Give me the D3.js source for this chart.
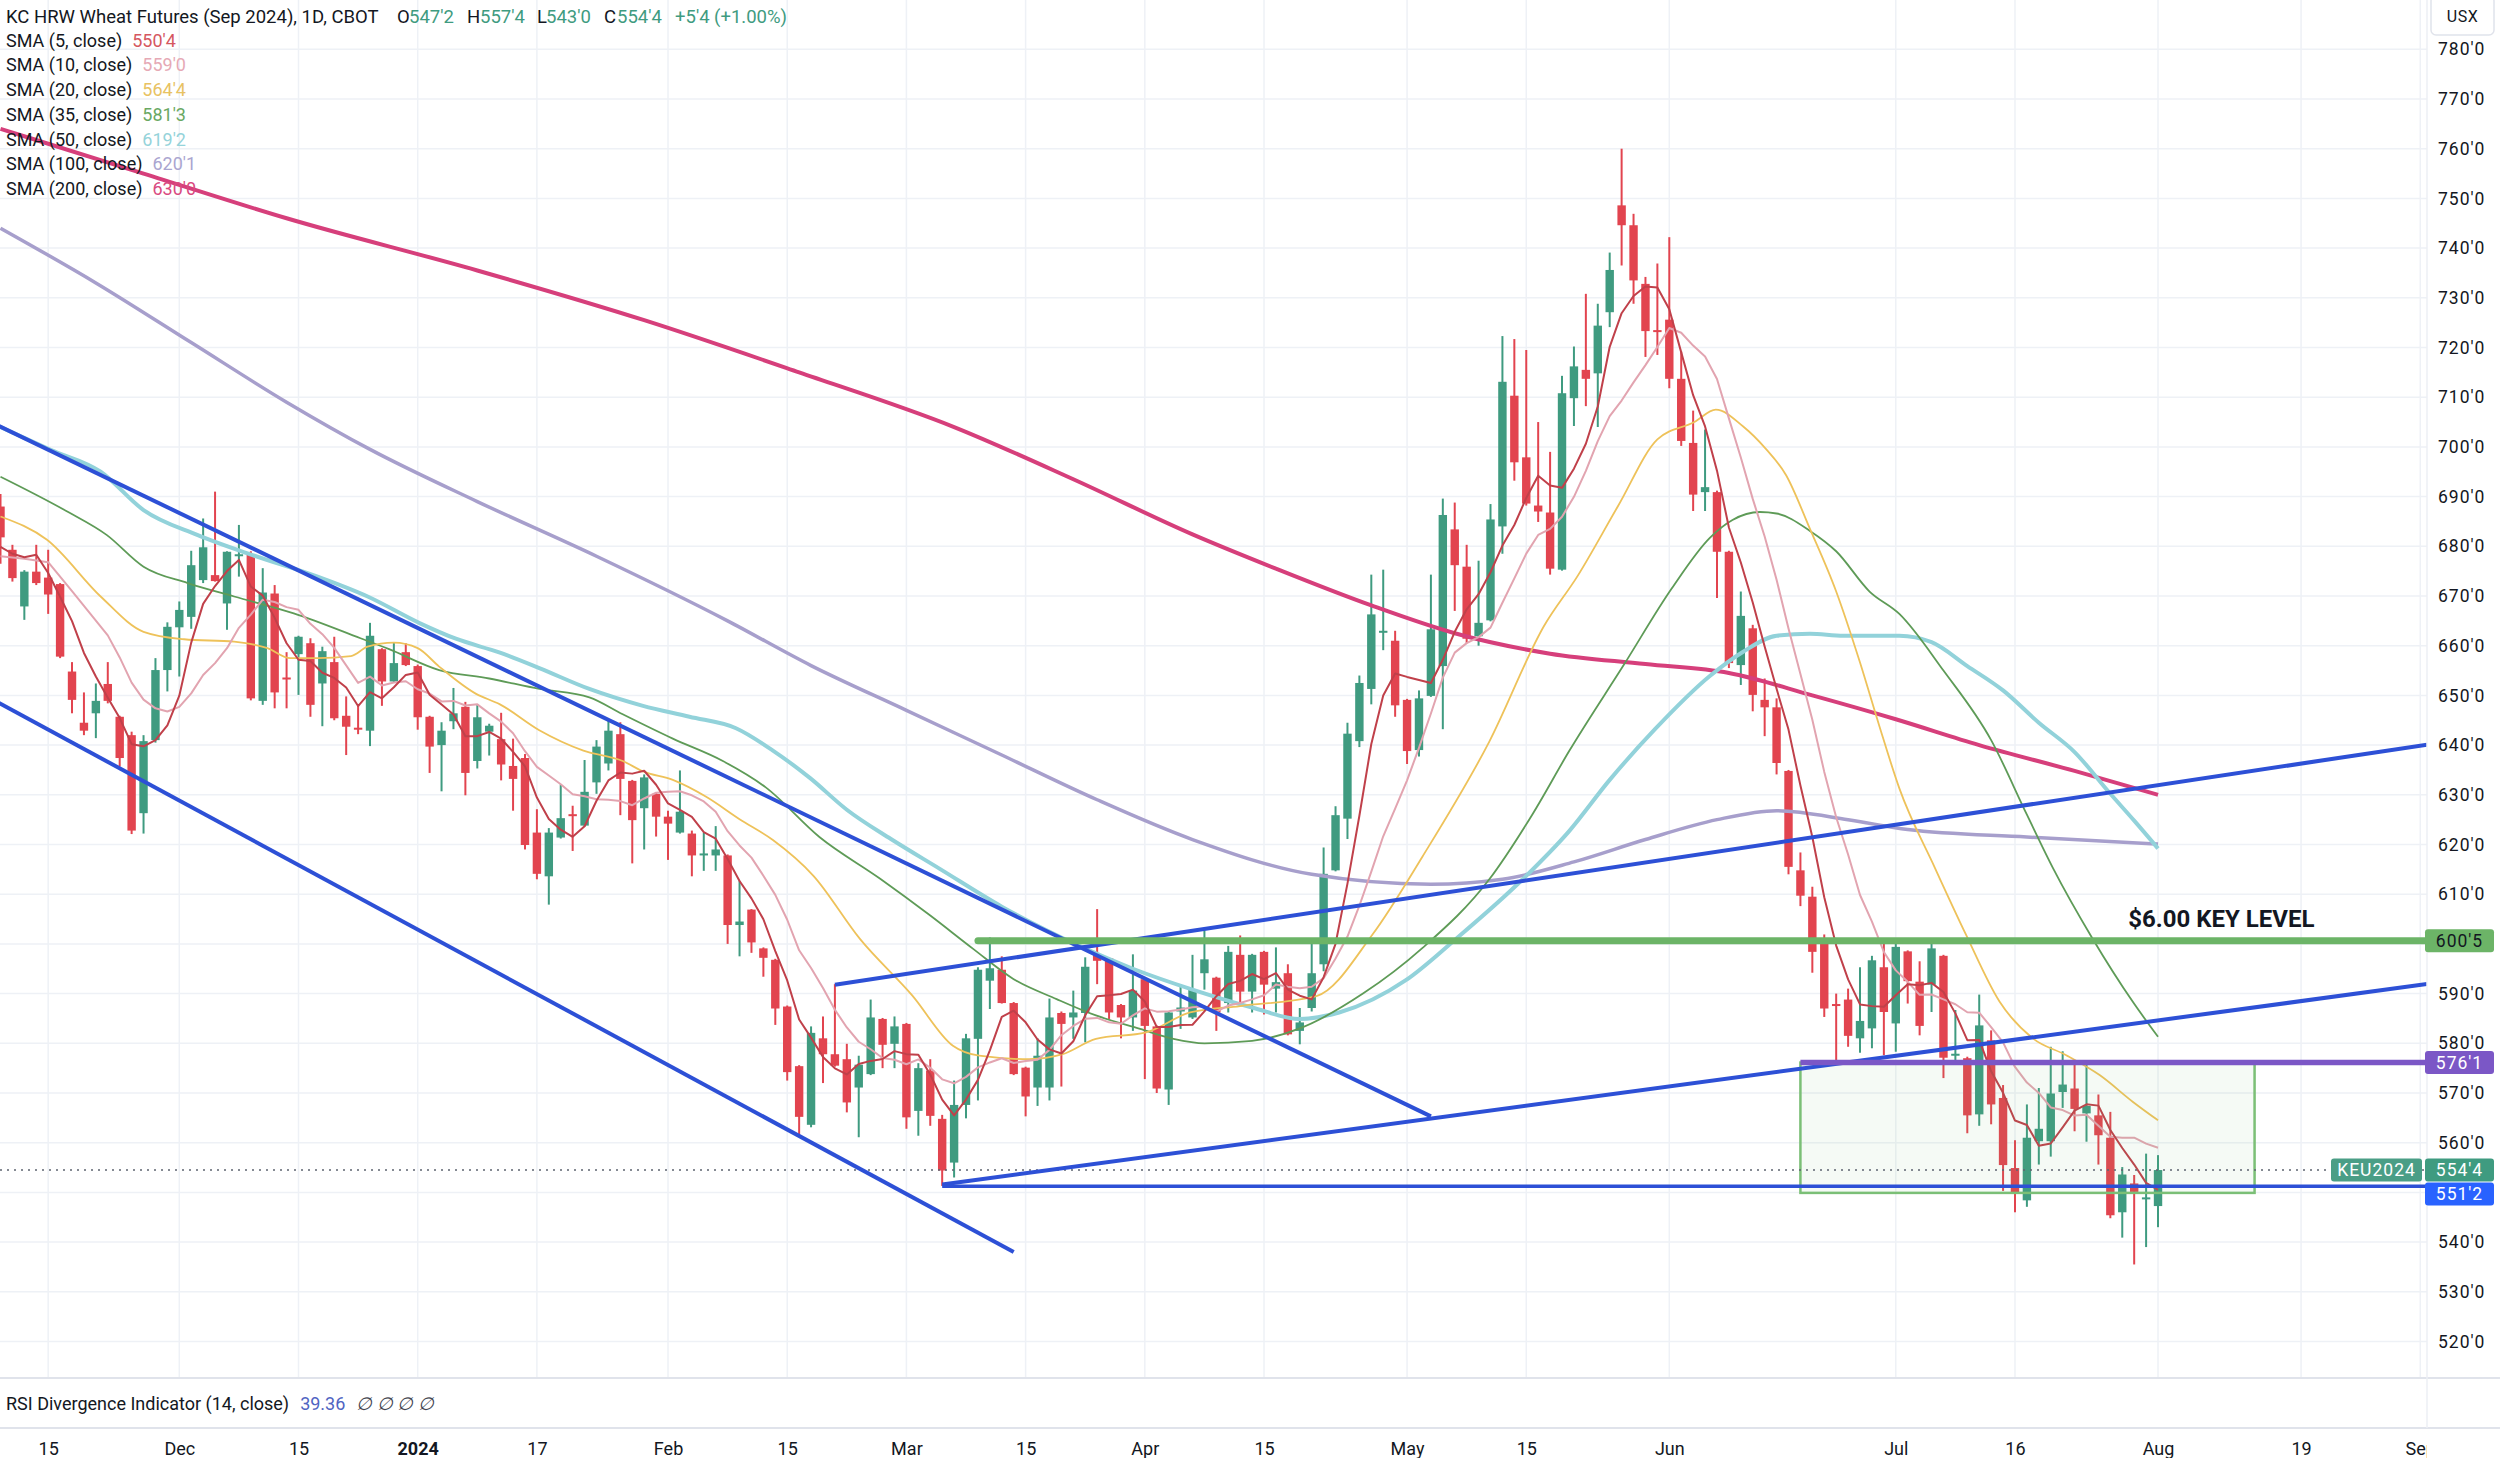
<!DOCTYPE html>
<html>
<head>
<meta charset="utf-8">
<script src="https://cdn.jsdelivr.net/npm/d3@7"></script>
<style>
body { margin: 0; background: #fff; }
svg { display: block; }
text { font-family: Roboto, "Liberation Sans", sans-serif; fill: #131722; }
</style>
</head>
<body>
<svg id="chart" width="2500" height="1458"></svg>
<script>
// ---- data ----
const firstDay = "2023-11-09";
const holidays = ["2023-11-23","2023-12-25","2024-01-01","2024-01-15","2024-02-19",
  "2024-03-29","2024-05-27","2024-06-19","2024-07-04","2024-09-02"];

// daily bars [open, high, low, close], one per trading day from firstDay
const candles = [
  [688.0,690.5,676.5,681.8],[679.3,680.3,672.9,673.6],[667.9,675.2,665.2,674.9],[674.9,680.3,672.2,672.6],
  [673.7,679.3,666.4,670.3],[672.4,672.6,657.5,657.8],[654.8,656.7,646.4,649.1],[644.5,650.6,642.0,642.9],
  [646.4,652.4,641.4,648.9],[652.3,656.7,648.4,648.9],[645.7,645.9,635.7,637.4],[642.0,642.7,622.1,622.8],
  [626.3,642.0,622.2,640.8],[641.0,657.5,640.5,655.1],[655.1,664.7,650.8,663.8],[663.7,668.9,653.8,667.2],
  [665.8,679.1,663.4,676.2],[673.2,685.6,672.6,679.8],[674.2,691.0,672.9,673.0],[668.5,679.0,663.2,678.9],
  [678.2,684.3,673.9,678.4],[678.3,679.0,649.0,649.4],[648.9,675.6,648.1,670.7],[670.5,672.2,647.4,650.6],
  [653.6,658.7,647.4,653.4],[658.3,662.0,650.1,661.8],[660.5,661.5,645.7,648.1],[652.4,659.8,643.8,658.9],
  [656.7,661.8,645.0,645.4],[645.9,649.8,638.0,643.7],[643.5,648.1,642.2,643.2],[642.9,664.6,639.8,662.0],
  [659.3,659.5,647.9,652.8],[652.8,660.7,652.6,656.5],[658.7,660.5,655.9,656.1],[655.9,656.2,643.1,645.6],
  [645.7,645.9,634.4,639.7],[640.0,644.6,630.7,642.9],[644.8,651.5,643.2,646.4],[647.7,648.7,629.9,634.4],
  [636.8,648.2,635.3,645.6],[642.7,644.3,637.9,643.9],[641.2,646.5,632.9,636.1],[635.8,641.3,626.8,633.2],
  [637.4,638.2,619.0,619.9],[622.4,627.1,613.0,614.1],[613.6,623.3,607.9,622.4],[621.4,632.1,621.2,625.3],
  [626.1,627.8,618.7,626.0],[623.8,637.0,623.6,630.6],[632.5,641.0,630.2,639.7],[636.3,645.1,634.9,642.9],
  [642.2,644.6,625.9,633.2],[632.8,633.0,616.2,624.9],[627.3,634.1,619.0,633.5],[630.2,630.4,621.6,625.6],
  [625.6,626.8,616.9,624.2],[622.4,634.9,622.2,626.6],[622.2,622.8,613.6,617.8],[618.1,622.4,614.7,618.2],
  [617.8,623.7,614.7,619.0],[617.8,618.0,600.0,603.8],[603.8,612.7,597.5,604.5],[606.9,607.0,598.2,600.3],
  [599.1,599.3,593.4,597.2],[596.8,597.0,583.7,587.0],[587.4,587.6,572.5,574.2],[575.4,575.6,561.6,565.2],
  [563.6,583.4,563.1,582.1],[581.0,585.4,572.0,577.8],[577.8,591.9,575.3,575.5],[576.8,579.9,566.1,568.1],
  [571.1,577.5,561.1,575.7],[573.8,588.8,573.6,585.2],[584.9,585.1,575.0,579.7],[579.9,585.4,575.0,583.4],
  [583.9,584.1,562.8,565.1],[566.4,576.0,561.4,575.0],[574.5,576.8,563.4,565.4],[564.8,565.6,551.3,554.4],
  [556.0,572.5,553.0,567.6],[567.6,581.9,564.9,581.0],[580.9,595.3,568.5,594.8],[592.6,601.3,586.9,595.1],
  [594.8,597.5,588.0,588.1],[588.1,588.3,573.6,573.8],[575.1,575.3,565.3,569.3],[571.1,581.0,567.4,577.5],
  [571.1,589.0,568.5,585.2],[586.1,586.4,571.3,583.9],[585.2,590.6,580.9,586.2],[586.1,597.3,580.2,595.4],
  [597.9,607.0,591.9,596.6],[597.1,597.3,584.9,586.2],[587.7,587.9,581.0,585.2],[585.2,597.9,582.5,590.6],
  [592.9,593.1,572.8,583.5],[583.4,583.6,570.0,570.9],[570.7,586.4,567.6,586.2],[586.4,591.9,582.9,587.2],
  [585.2,597.8,584.9,590.9],[594.1,602.7,590.8,596.9],[593.2,593.4,582.5,586.2],[588.1,599.6,586.2,598.4],
  [597.8,601.7,587.6,590.4],[590.4,598.0,586.2,597.8],[598.4,598.6,585.8,591.8],[591.0,599.3,586.2,592.3],
  [594.1,595.9,581.6,581.8],[582.5,587.1,579.8,584.2],[587.1,600.1,586.4,594.1],[595.9,619.4,594.5,614.1],
  [614.8,627.7,614.6,625.9],[625.2,644.5,621.1,642.3],[640.8,654.0,639.6,652.5],[651.3,674.3,648.2,666.3],
  [662.8,675.3,659.1,663.0],[661.0,663.0,645.7,648.0],[649.1,649.3,636.2,638.8],[639.0,651.0,637.7,649.4],
  [649.9,674.3,649.7,663.3],[655.9,689.6,643.2,686.3],[683.4,688.8,667.0,676.2],[675.9,680.3,660.5,661.4],
  [661.9,677.1,660.0,664.6],[665.1,688.5,664.9,685.4],[684.0,722.3,678.5,713.1],[710.3,721.7,693.2,696.9],
  [697.9,719.5,688.2,688.6],[688.2,705.0,684.9,687.0],[686.8,699.0,674.3,675.5],[675.3,714.3,675.1,710.8],
  [709.8,720.2,704.2,716.2],[715.5,730.8,708.2,713.7],[714.8,728.8,704.0,724.4],[727.1,739.1,724.1,735.6],
  [748.6,760.0,736.5,744.6],[744.6,746.9,728.8,733.5],[732.8,734.2,718.1,723.3],[723.5,736.9,718.5,723.4],
  [725.6,742.2,711.8,713.7],[713.7,719.2,700.2,701.2],[700.8,707.3,687.1,690.4],[690.9,703.5,687.1,691.9],
  [690.9,691.2,669.6,678.9],[678.9,679.1,655.5,656.5],[656.1,670.9,652.1,666.0],[663.5,664.2,646.8,650.1],
  [649.1,653.4,641.8,647.6],[647.6,649.4,634.1,636.4],[634.8,635.0,614.0,615.5],[614.8,618.4,607.6,609.7],
  [609.5,611.5,594.2,598.4],[600.3,601.9,585.3,587.0],[587.9,590.0,576.4,587.7],[588.8,591.0,579.3,581.5],
  [581.0,595.3,578.1,584.5],[583.0,597.6,579.0,596.7],[595.3,600.8,577.6,586.3],[584.0,600.3,578.3,599.4],
  [598.5,598.7,588.0,592.5],[592.4,596.5,581.6,583.5],[591.8,600.4,586.3,599.1],[597.6,597.8,573.0,577.1],
  [577.8,586.7,576.6,577.9],[577.0,577.3,561.9,565.5],[565.7,589.8,563.4,583.6],[580.6,582.6,563.7,567.7],
  [569.0,571.6,550.3,555.5],[554.9,560.5,546.0,550.0],[548.4,567.7,547.1,561.0],[560.3,571.0,555.6,562.8],
  [560.3,579.3,557.2,569.9],[570.2,578.4,567.0,571.7],[570.9,575.9,562.3,566.8],[565.9,575.9,560.2,567.4],
  [565.5,569.7,555.6,561.5],[561.0,566.2,544.8,545.4],[546.0,555.1,540.9,553.6],[551.8,553.5,535.5,550.1],
  [548.9,557.8,539.0,549.0],[547.25,557.5,543.0,554.5]
];

// slower averages as [bar, price]
const sma20Pts = [[0,686],[3.9,681.3],[8.4,669.9],[12,662.8],[15.4,661.3],[19.6,660.8],[22.4,659.5],[24.3,657.5],
  [26.6,657.5],[29.4,657.9],[30.8,659.8],[33,660.6],[35,659.5],[36.8,655.8],[39.9,650.3],[41.9,648.2],[45.2,643],
  [48.9,638.9],[52.2,636.8],[53.9,634.7],[56.4,633],[59.2,629.6],[62,625.1],[64.8,620.9],[68.2,613.7],[72.1,601],
  [76.5,589.6],[79.9,579.5],[82.1,577.5],[86.3,576.8],[89.1,577.8],[91.9,580.9],[96.1,582.2],[99.8,586.2],
  [104,587.5],[110.4,589.5],[115.1,601.9],[119.3,617.6],[124.9,640.7],[129.5,664],[132.3,674],[135.7,688.1],
  [139,701.5],[142.1,705],[143.9,707.5],[146.2,704.1],[148.1,699.6],[149.8,694.3],[151.8,683.5],[154,670.9],
  [156,656.6],[157.6,644],[159.3,631.3],[162.3,615.2],[164.9,601.8],[167.7,588.4],[170.5,581],[173.3,577.6],
  [176.1,573.6],[178.9,568.2],[181,564.5]];
const sma35Pts = [[0,694],[5.6,687],[8.9,682.3],[12,675.9],[15.7,672.6],[19.6,669.9],[24.6,666.5],[30.2,661.5],
  [32.6,659.3],[36.8,655.1],[41,653.4],[45.2,651.3],[49.4,649.6],[52.2,646.2],[56.4,641.3],[60.6,636.8],
  [64.2,631.5],[68.7,621.5],[73.8,613.1],[78,605.7],[81.6,599],[85,592.9],[88.6,588.9],[91.9,585.6],[95.6,582.9],
  [98.4,580.9],[101,580],[105,580.5],[109,583],[114.3,590],[119.3,599.2],[124.9,613],[128.5,626],[131.6,638.8],
  [136.2,656.2],[140.2,671.5],[143.4,681.7],[145.3,685.3],[147.6,686.9],[149,686.6],[151.8,683.1],[154,679],
  [156.8,670.9],[159.3,666.4],[163,655],[167,641],[170,626],[172.2,615.2],[175.5,601.1],[178.9,588.3],[181,581.3]];
const sma50Pts = [[0,704],[4.2,699.4],[8.4,695],[12,687.3],[16.5,682.3],[21.3,678.1],[26.6,673.9],[30.8,669.9],
  [35.2,664.5],[38.2,661.4],[41.9,658.6],[45.2,655.5],[49.4,651.3],[53.9,647.9],[57.8,645.7],[61.7,643.4],
  [64.8,638.9],[67.9,633.4],[71,627],[74.7,621.1],[78.8,615.1],[84,607.5],[90.5,599.6],[95,595],[100,590.8],
  [105,587.2],[109,584.9],[112.3,586.2],[117.9,592.7],[122.1,601],[127.7,613],[131.6,622.7],[135,633],
  [138.8,643.2],[143.4,653.9],[146.2,658.8],[149,662],[151.8,662.4],[154.6,662],[159.3,662],[162,660.7],
  [165,655.9],[168,651],[171,644.5],[174,638.6],[177,630.2],[179,624.8],[181,619.2]];
const sma100Pts = [[0,744],[8,733],[16,721],[24,709],[31,699.5],[40,689],[50,678],[61,665],[68,656],[76,647],
  [84,638],[92,629],[100,621],[110,614],[120,612],[126,613],[132,616.5],[138,621],[144,625],[149,626.8],
  [155,625],[160,623],[170,621.5],[181,620.1]];
const sma200Pts = [[0,764],[12,755],[24,746],[40,735.5],[54,725.5],[67,715],[80,704],[90,693.5],[100,682.4],
  [107,675.5],[115,668.1],[122,662.5],[130,658.4],[138,656.3],[145,654.5],[152,650],[159,645.2],[166,640],
  [174,634.8],[181,630]];
// the first bars of the fast averages, before their window is full
const sma5Lead = [[0,679.9],[1,678.5],[2,677.8],[3,678.3]];
const sma10Lead = [[0,678],[2,677.5],[4,676.8],[6,671]];

const smaNames = ["SMA (5, close)","SMA (10, close)","SMA (20, close)","SMA (35, close)",
  "SMA (50, close)","SMA (100, close)","SMA (200, close)"];
const smaValues = ["550'4","559'0","564'4","581'3","619'2","620'1","630'0"];

const timeTicks = [["2023-11-15","15"],["2023-12-01","Dec"],["2023-12-15","15"],["2024-01-02","2024"],
  ["2024-01-17","17"],["2024-02-01","Feb"],["2024-02-15","15"],["2024-03-01","Mar"],["2024-03-15","15"],
  ["2024-04-01","Apr"],["2024-04-15","15"],["2024-05-01","May"],["2024-05-15","15"],["2024-06-03","Jun"],
  ["2024-07-01","Jul"],["2024-07-16","16"],["2024-08-01","Aug"],["2024-08-19","19"],["2024-09-03","Sep"]];
const priceTicks = d3.range(520, 781, 10);

// drawings, in [bar, price]
const channelLines = [[[-1,705.2],[120,565.3]], [[-1,649.6],[85,538.0]]];
const wedgeRays = [[[79,551.6],[151,574.9]], [[70,591.8],[100.7,602.9]]];
const keyLevel = 600.625, keyLevelFrom = 82;
const boxTop = 576.125, boxBottom = 549.9, boxFrom = 151, boxTo = 189.1;
const supportLevel = 551.25, supportFrom = 79;
const keyText = "$6.00 KEY LEVEL", keyTextAt = [178.5, 603.4];

// ---- layout ----
const W = 2500, H = 1458, plotRight = 2427, paneBottom = 1378, rsiBottom = 1428;
const upColor = "#3f9b80", downColor = "#e2444f";
const smaColors = ["#c0404a","#e2a4b0","#eec25a","#5e9b57","#92d2da","#a79fcc","#d63f7b"];
const smaLegendColors = ["#d5575f","#e6a9b5","#e8c262","#69a862","#95d3da","#aaa5d0","#d94a80"];

const tradingDays = [];
for (let d = new Date(firstDay + "T00:00:00Z"); tradingDays.length < 210; d.setUTCDate(d.getUTCDate() + 1)) {
  const s = d.toISOString().slice(0, 10), dow = d.getUTCDay();
  if (dow !== 0 && dow !== 6 && !holidays.includes(s)) tradingDays.push(s);
}
const dayIndex = new Map(tradingDays.map((s, i) => [s, i]));

function fmt(p) {
  const whole = Math.floor(p + 1e-9);
  return whole + "'" + Math.round((p - whole) * 8);
}

const x = d3.scaleLinear().domain([0, 203]).range([0.5, 0.5 + 203 * 11.92]);
const y = d3.scaleLinear().domain([520, 780]).range([1341.5, 49.3]);
const lastBar = x.invert(plotRight);

const svg = d3.select("#chart");
svg.append("defs").append("clipPath").attr("id", "pane")
  .append("rect").attr("x", 0).attr("y", 0).attr("width", plotRight).attr("height", paneBottom);

// grid
const grid = svg.append("g");
grid.selectAll(".hg").data(priceTicks).enter().append("line")
  .attr("x1", 0).attr("x2", plotRight).attr("y1", d => y(d)).attr("y2", d => y(d))
  .attr("stroke", "#eef1f6").attr("stroke-width", 1.5);
grid.selectAll(".vg").data(timeTicks).enter().append("line")
  .attr("x1", d => x(dayIndex.get(d[0]))).attr("x2", d => x(dayIndex.get(d[0])))
  .attr("y1", 0).attr("y2", paneBottom)
  .attr("stroke", "#eef1f6").attr("stroke-width", 1.5);

const pane = svg.append("g").attr("clip-path", "url(#pane)");

// candles
const bars = pane.append("g").selectAll("g").data(candles).enter().append("g")
  .attr("fill", d => d[3] >= d[0] ? upColor : downColor)
  .attr("stroke", d => d[3] >= d[0] ? upColor : downColor);
bars.append("line")
  .attr("x1", (d, i) => x(i)).attr("x2", (d, i) => x(i))
  .attr("y1", d => y(d[1])).attr("y2", d => y(d[2]))
  .attr("stroke-width", 2);
bars.append("rect")
  .attr("x", (d, i) => x(i) - 4.2).attr("width", 8.4)
  .attr("y", d => y(Math.max(d[0], d[3])))
  .attr("height", d => Math.max(2, y(Math.min(d[0], d[3])) - y(Math.max(d[0], d[3]))))
  .attr("stroke", "none");

// moving averages
function rolling(n, lead) {
  const pts = lead.slice();
  for (let i = n - 1; i < candles.length; i++) {
    pts.push([i, d3.mean(candles.slice(i - n + 1, i + 1), c => c[3])]);
  }
  return pts;
}
const smooth = d3.line().x(d => x(d[0])).y(d => y(d[1])).curve(d3.curveMonotoneX);
const straight = d3.line().x(d => x(d[0])).y(d => y(d[1]));
const smaSeries = [
  [straight(rolling(5, sma5Lead)), 2],
  [straight(rolling(10, sma10Lead)), 2],
  [smooth(sma20Pts), 1.8],
  [smooth(sma35Pts), 1.8],
  [smooth(sma50Pts), 4],
  [smooth(sma100Pts), 3.5],
  [smooth(sma200Pts), 4]
];
const maG = pane.append("g").attr("fill", "none");
[6, 5, 4, 3, 2, 1, 0].forEach(k => {
  maG.append("path").attr("d", smaSeries[k][0])
    .attr("stroke", smaColors[k]).attr("stroke-width", smaSeries[k][1])
    .attr("stroke-linejoin", "round");
});

// drawings
const dr = pane.append("g");
dr.append("rect")
  .attr("x", x(boxFrom)).attr("width", x(boxTo) - x(boxFrom))
  .attr("y", y(boxTop)).attr("height", y(boxBottom) - y(boxTop))
  .attr("fill", "rgba(110,185,110,0.07)").attr("stroke", "#7bbf76").attr("stroke-width", 2.5);
dr.append("line")
  .attr("x1", 0).attr("x2", plotRight).attr("y1", y(554.5)).attr("y2", y(554.5))
  .attr("stroke", "#5d6470").attr("stroke-width", 1.5).attr("stroke-dasharray", "2,5");
channelLines.forEach(l => {
  dr.append("line")
    .attr("x1", x(l[0][0])).attr("y1", y(l[0][1])).attr("x2", x(l[1][0])).attr("y2", y(l[1][1]))
    .attr("stroke", "#2d50d6").attr("stroke-width", 4);
});
wedgeRays.forEach(l => {
  const slope = (l[1][1] - l[0][1]) / (l[1][0] - l[0][0]);
  dr.append("line")
    .attr("x1", x(l[0][0])).attr("y1", y(l[0][1]))
    .attr("x2", plotRight).attr("y2", y(l[0][1] + slope * (lastBar - l[0][0])))
    .attr("stroke", "#2d50d6").attr("stroke-width", 4);
});
dr.append("line")
  .attr("x1", x(supportFrom)).attr("x2", plotRight).attr("y1", y(supportLevel)).attr("y2", y(supportLevel))
  .attr("stroke", "#2d50d6").attr("stroke-width", 3.5);
dr.append("line")
  .attr("x1", x(keyLevelFrom)).attr("x2", plotRight).attr("y1", y(keyLevel)).attr("y2", y(keyLevel))
  .attr("stroke", "#6cb467").attr("stroke-width", 7).attr("stroke-linecap", "round");
dr.append("line")
  .attr("x1", x(boxFrom)).attr("x2", plotRight).attr("y1", y(boxTop)).attr("y2", y(boxTop))
  .attr("stroke", "#7b57c6").attr("stroke-width", 5.5);
dr.append("text").attr("x", x(keyTextAt[0])).attr("y", y(keyTextAt[1]))
  .style("font-family", "Roboto, sans-serif")
  .attr("font-weight", "bold").attr("font-size", 24).text(keyText);

// panes, separators
svg.append("line").attr("x1", 0).attr("x2", W).attr("y1", paneBottom).attr("y2", paneBottom)
  .attr("stroke", "#e0e3eb").attr("stroke-width", 2);
svg.append("line").attr("x1", 0).attr("x2", W).attr("y1", rsiBottom).attr("y2", rsiBottom)
  .attr("stroke", "#e0e3eb").attr("stroke-width", 2);
svg.append("line").attr("x1", plotRight).attr("x2", plotRight).attr("y1", 0).attr("y2", rsiBottom)
  .attr("stroke", "#eceff4").attr("stroke-width", 1.5);

// price axis
const yAxis = svg.append("g").attr("transform", `translate(${plotRight},0)`)
  .call(d3.axisRight(y).tickValues(priceTicks).tickFormat(fmt).tickSize(0).tickPadding(11));
yAxis.select(".domain").remove();
yAxis.selectAll("text").attr("font-size", 17.5).attr("letter-spacing", 1).attr("fill", "#131722");

// time axis
const tickLabel = new Map(timeTicks.map(t => [dayIndex.get(t[0]), t[1]]));
svg.append("clipPath").attr("id", "timeclip").append("rect")
  .attr("x", 0).attr("y", rsiBottom).attr("width", plotRight).attr("height", H - rsiBottom);
const xAxis = svg.append("g").attr("clip-path", "url(#timeclip)").append("g")
  .attr("transform", `translate(0,${rsiBottom})`)
  .call(d3.axisBottom(x).tickValues(timeTicks.map(t => dayIndex.get(t[0])))
    .tickFormat(i => tickLabel.get(i)).tickSize(0).tickPadding(14.6));
xAxis.select(".domain").remove();
xAxis.selectAll("text").attr("font-size", 18)
  .attr("fill", "#131722").attr("font-weight", i => tickLabel.get(i) === "2024" ? "bold" : null);

// price labels on the scale
function scaleTag(x0, w, cy, fill, color, label) {
  svg.append("rect").attr("x", x0).attr("y", cy - 11.5).attr("width", w).attr("height", 23)
    .attr("rx", 3).attr("fill", fill);
  svg.append("text").attr("x", x0 + w / 2).attr("y", cy + 6.3).attr("text-anchor", "middle")
    .attr("font-size", 17.5).attr("letter-spacing", 1).style("fill", color).text(label);
}
const last = candles[candles.length - 1];
scaleTag(2425, 69, y(keyLevel), "#6cb467", "#131722", fmt(keyLevel));
scaleTag(2425, 69, y(boxTop), "#7b57c6", "#fff", fmt(boxTop));
scaleTag(2331, 91, y(last[3]), "#4a9e86", "#fff", "KEU2024");
scaleTag(2425, 69, y(last[3]), "#3f9b80", "#fff", fmt(last[3]));
scaleTag(2425, 69, y(last[3]) + 24, "#2962ff", "#fff", fmt(supportLevel));

svg.append("rect").attr("x", 2431).attr("y", -4).attr("width", 63).attr("height", 39).attr("rx", 5)
  .attr("fill", "#fff").attr("stroke", "#e0e3eb").attr("stroke-width", 1.5);
svg.append("text").attr("x", 2462.5).attr("y", 22).attr("text-anchor", "middle")
  .attr("font-size", 16).attr("letter-spacing", 0.5).text("USX");

// legend
const prev = candles[candles.length - 2];
const chg = last[3] - prev[3];
svg.append("text").attr("x", 6).attr("y", 22.5).attr("font-size", 18.5)
  .text("KC HRW Wheat Futures (Sep 2024), 1D, CBOT");
const ohlcX = [[397, 409], [467, 480], [537, 546], [604, 617]];
[["O", last[0]], ["H", last[1]], ["L", last[2]], ["C", last[3]]].forEach((p, k) => {
  svg.append("text").attr("x", ohlcX[k][0]).attr("y", 22.5).attr("font-size", 18.5).text(p[0]);
  svg.append("text").attr("x", ohlcX[k][1]).attr("y", 22.5).attr("font-size", 18.5)
    .style("fill", upColor).text(fmt(p[1]));
});
svg.append("text").attr("x", 675).attr("y", 22.5).attr("font-size", 18.5).style("fill", upColor)
  .text(`+${fmt(chg)} (+${(chg / prev[3] * 100).toFixed(2)}%)`);

smaNames.forEach((name, k) => {
  const t = svg.append("text").attr("x", 6).attr("y", 46.5 + k * 24.75).attr("font-size", 18);
  t.append("tspan").text(name);
  t.append("tspan").attr("dx", 10).style("fill", smaLegendColors[k]).text(smaValues[k]);
});

const rsi = svg.append("text").attr("x", 6).attr("y", 1409.5).attr("font-size", 18);
rsi.append("tspan").text("RSI Divergence Indicator (14, close)");
rsi.append("tspan").attr("dx", 11).style("fill", "#5064c2").text("39.36");
rsi.append("tspan").attr("dx", 11).style("fill", "#434651").attr("font-size", 18)
  .attr("font-style", "italic").text("∅ ∅ ∅ ∅");
</script>
</body>
</html>
